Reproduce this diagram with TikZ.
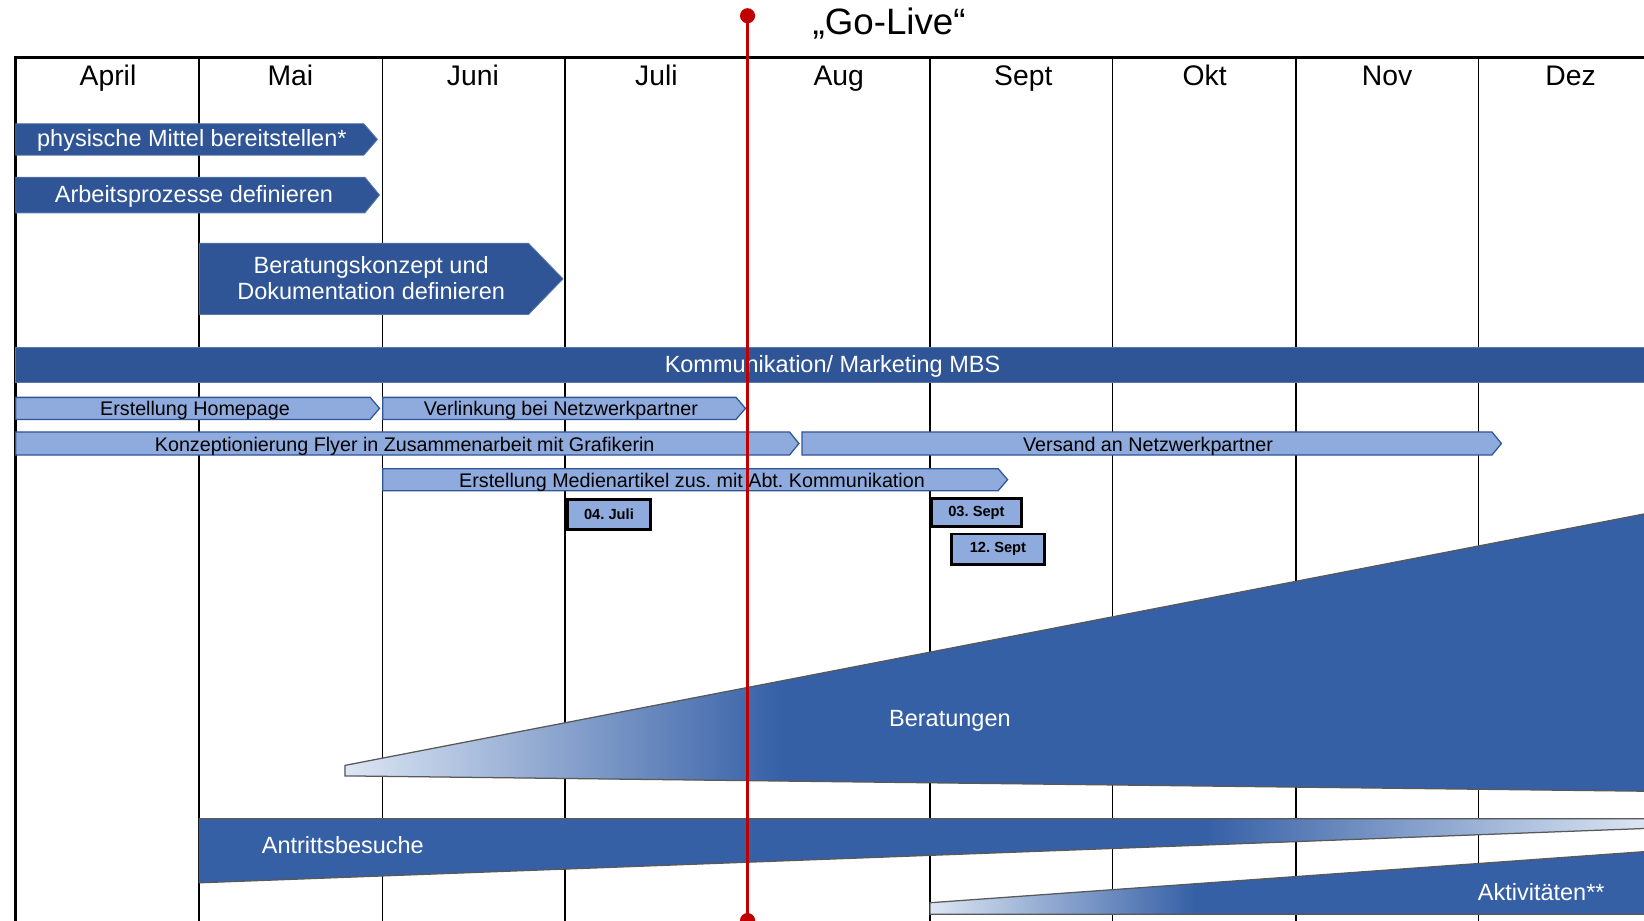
\documentclass[tikz,border=0pt]{standalone}
\usepackage{fontspec}
\setmainfont{Liberation Sans}
\usepackage{xcolor}
\definecolor{mbsblau}{HTML}{2F5597}
\definecolor{keilblau}{HTML}{3660A6}
\definecolor{mbshell}{HTML}{8FAADC}
\definecolor{keilhell}{HTML}{DCE6F4}
\definecolor{golive}{HTML}{C00000}
\usepackage{tikz}
\frenchspacing

\begin{document}
\begin{tikzpicture}[x=0.5pt,y=-0.5pt,
  monat/.style={font=\fontsize{13.5}{16}\selectfont,anchor=base},
  dunkel/.style={fill=mbsblau,draw=mbsblau!80!white,line width=0.4pt},
  hell/.style={fill=mbshell,draw=mbsblau,line width=0.6pt},
  keil/.style={fill=keilblau},
  keilrand/.style={draw=black!65,line width=0.6pt},
  weiss/.style={text=white,font=\fontsize{11.2}{12.5}\selectfont,align=center,text height=0.72em,text depth=0pt},
  klein/.style={font=\fontsize{9.4}{11}\selectfont,text height=0.72em,text depth=0pt},
  datum/.style={draw=black,line width=1.3pt,fill=mbshell,inner sep=0pt,font=\bfseries\fontsize{7}{8}\selectfont}
]
\useasboundingbox (0,0) rectangle (1568,878);
% ---- Raster ----
\foreach \x in {190,365,539,713,887,1061,1236,1410}
  \draw[line width=0.75pt] (\x,55) -- (\x,878);
\draw[line width=1.6pt] (15,878) -- (15,55) -- (1580,55);
\foreach \x/\m [count=\i] in {103/April,277/Mai,451/Juni,626/Juli,800/Aug,976/Sept,1149/Okt,1323/Nov,1498/Dez}
  \node[monat] (m\i) at (\x,82) {\m};
% ---- dunkle Balken ----
\draw[dunkel] (15,118) -- (347,118) -- (360,133) -- (347,148) -- (15,148) -- cycle;
\node[weiss] (mittel) at (183,133) {physische Mittel bereitstellen*};
\draw[dunkel] (15,169) -- (348,169) -- (362,186) -- (348,203) -- (15,203) -- cycle;
\node[weiss] (prozesse) at (185,186) {Arbeitsprozesse definieren};
\draw[dunkel] (190,232) -- (504,232) -- (537,266) -- (504,300) -- (190,300) -- cycle;
\node[weiss,text height=,text depth=] (konzept) at (354,265) {Beratungskonzept und\\Dokumentation definieren};
\draw[dunkel] (15,331) rectangle (1600,365);
\node[weiss] (kommunikation) at (794,348) {Kommunikation/ Marketing MBS};
% ---- helle Balken ----
\draw[hell] (15,379) -- (353,379) -- (362,389.5) -- (353,400) -- (15,400) -- cycle;
\node[klein] (homepage) at (186,389.5) {Erstellung Homepage};
\draw[hell] (365,379) -- (702,379) -- (711,389.5) -- (702,400) -- (365,400) -- cycle;
\node[klein] (verlinkung) at (535,389.5) {Verlinkung bei Netzwerkpartner};
\draw[hell] (15,412) -- (753,412) -- (762,423) -- (753,434) -- (15,434) -- cycle;
\node[klein] (flyer) at (386,423) {Konzeptionierung Flyer in Zusammenarbeit mit Grafikerin};
\draw[hell] (765,412) -- (1423,412) -- (1432,423) -- (1423,434) -- (765,434) -- cycle;
\node[klein] (versand) at (1095,423) {Versand an Netzwerkpartner};
\draw[hell] (365,447) -- (952,447) -- (961,457.5) -- (952,468) -- (365,468) -- cycle;
\node[klein] (medien) at (660,457.5) {Erstellung Medienartikel zus. mit Abt. Kommunikation};
% ---- Termine ----
\node[datum,minimum width=39.5pt,minimum height=14.5pt,anchor=north west] (juli04) at (540,475) {04. Juli};
\node[datum,minimum width=43pt,minimum height=13.5pt,anchor=north west] (sept03) at (887,474) {03. Sept};
\node[datum,minimum width=44.5pt,minimum height=14.5pt,anchor=north west] (sept12) at (906,508) {12. Sept};
% ---- Beratungen ----
\coordinate (b1) at (329,730); \coordinate (b2) at (1600,484);
\coordinate (b3) at (1600,755); \coordinate (b4) at (329,740);
\fill[keil] (b1) -- (b2) -- (b3) -- (b4) -- cycle;
\begin{scope}
  \clip (b1) -- (b2) -- (b3) -- (b4) -- cycle;
  \shade[left color=keilhell,right color=keilblau] (329,600) rectangle (745,760);
\end{scope}
\draw[keilrand] (b1) -- (b2) -- (b3) -- (b4) -- cycle;
\node[weiss] (beratungen) at (906,686) {Beratungen};
% ---- Antrittsbesuche ----
\coordinate (a1) at (190,781); \coordinate (a2) at (1600,781);
\coordinate (a3) at (1600,789); \coordinate (a4) at (190,842);
\fill[keil] (a1) -- (a2) -- (a3) -- (a4) -- cycle;
\begin{scope}
  \clip (a1) -- (a2) -- (a3) -- (a4) -- cycle;
  \shade[left color=keilblau,right color=keilhell] (1150,770) rectangle (1570,850);
\end{scope}
\draw[keilrand] (a1) -- (a2) -- (a3) -- (a4) -- cycle;
\node[weiss] (antritt) at (327,807) {Antrittsbesuche};
% ---- Aktivitaeten ----
\coordinate (k1) at (887,861); \coordinate (k2) at (1600,810);
\coordinate (k3) at (1600,872); \coordinate (k4) at (887,872);
\fill[keil] (k1) -- (k2) -- (k3) -- (k4) -- cycle;
\begin{scope}
  \clip (k1) -- (k2) -- (k3) -- (k4) -- cycle;
  \shade[left color=keilhell,right color=keilblau] (887,800) rectangle (1140,880);
\end{scope}
\draw[keilrand] (k1) -- (k2) -- (k3) -- (k4) -- cycle;
\node[weiss] (aktiv) at (1470,852) {Aktivitäten**};
% ---- Go-Live ----
\coordinate (gooben) at (713,15);
\coordinate (gounten) at (713,878);
\draw[golive,line width=1.5pt] (gooben) -- (gounten);
\fill[golive] (gooben) circle (3.6pt);
\fill[golive] (gounten) circle (3.6pt);
\node[font=\fontsize{17.5}{20}\selectfont] (golivetext) at (848,22) {„Go-Live“};
\end{tikzpicture}
\end{document}
